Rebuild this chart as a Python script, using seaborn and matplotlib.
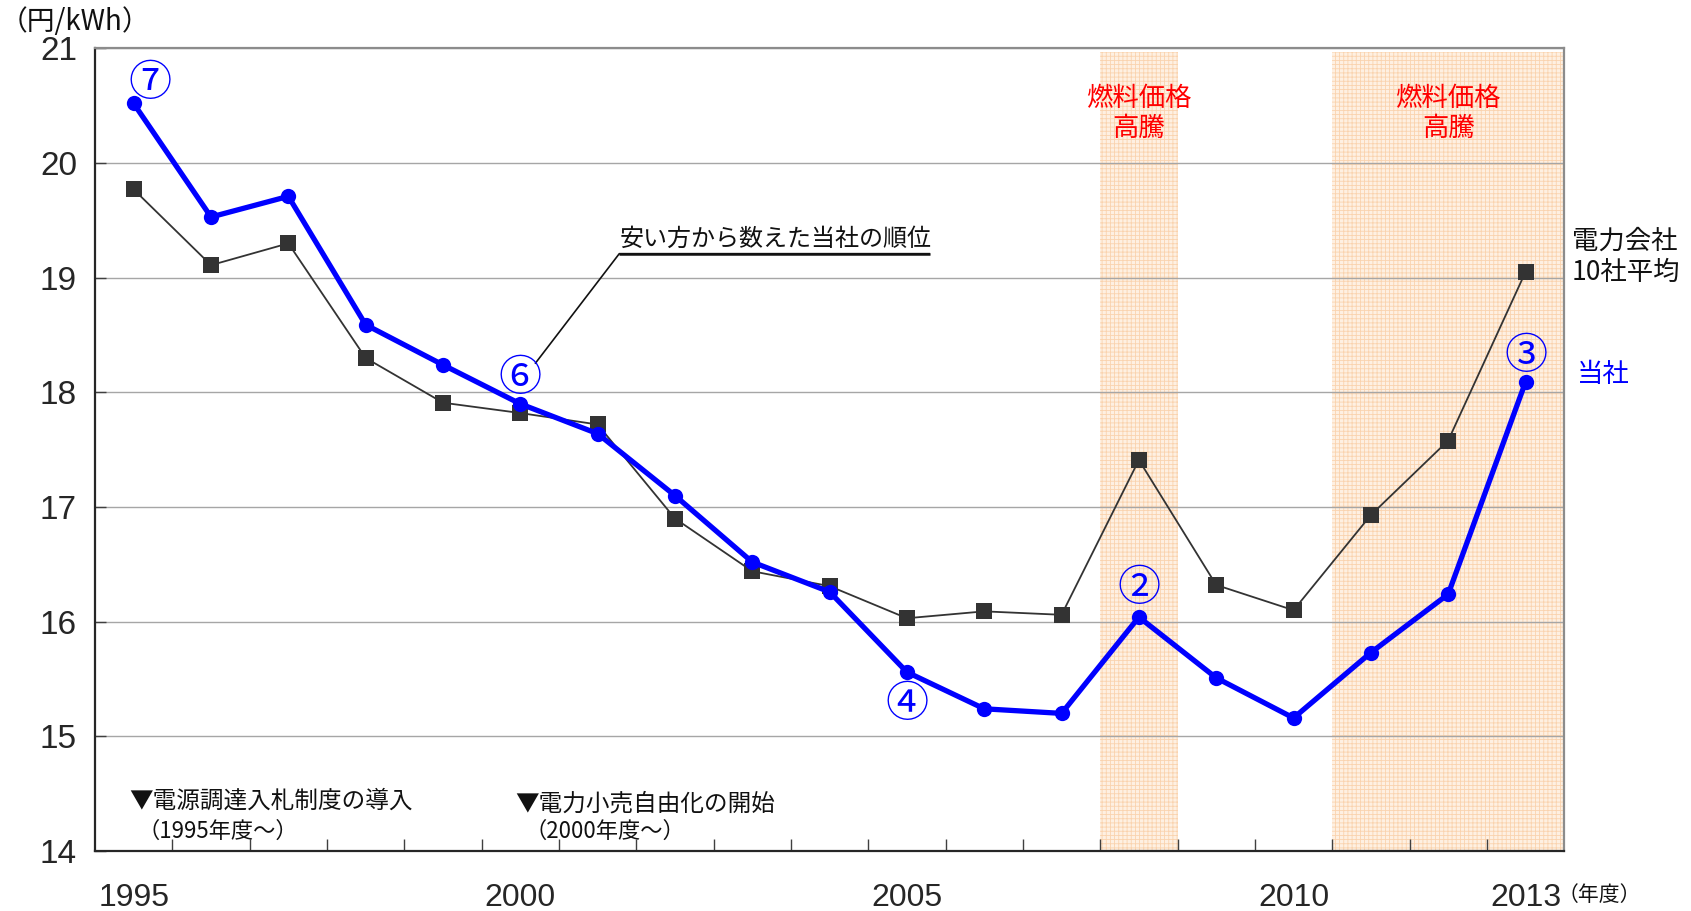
import matplotlib
matplotlib.use("Agg")
import matplotlib.pyplot as plt
import seaborn as sns
import pandas as pd
import numpy as np

# Fiscal years and unit prices (yen/kWh)
years = list(range(1995, 2014))
own_company = [20.52, 19.53, 19.71, 18.59, 18.24, 17.90, 17.64, 17.10, 16.52, 16.26,
               15.56, 15.24, 15.20, 16.04, 15.51, 15.16, 15.73, 16.24, 18.09]
ten_company_avg = [19.77, 19.11, 19.30, 18.30, 17.91, 17.82, 17.72, 16.90, 16.44, 16.31,
                   16.03, 16.09, 16.06, 17.41, 16.32, 16.10, 16.93, 17.58, 19.05]

# Rank of the company (counted from the cheapest) for selected years
rank_years = [1995, 2000, 2005, 2008, 2013]
rank_labels = ["⑦", "⑥", "④", "②", "③"]
rank_offsets = [(12, 14), (0, 18), (0, -24), (0, 20), (0, 18)]

# Periods of soaring fuel prices
fuel_spikes = [(2007.5, 2008.5), (2010.5, 2013.5)]
tick_label_years = [1995, 2000, 2005, 2010, 2013]

sns.set_theme(style="white")
plt.rcParams["font.family"] = ["Liberation Sans", "Noto Sans CJK JP", "DejaVu Sans"]
plt.rcParams["hatch.linewidth"] = 0.6
jp = ["Noto Sans CJK JP", "DejaVu Sans"]

fig = plt.figure(figsize=(16.91, 9.11), dpi=100)
ax = fig.add_axes([0.0562, 0.0659, 0.8688, 0.8809])

df = pd.DataFrame({"年度": years + years,
                   "単価": own_company + ten_company_avg,
                   "系列": ["当社"] * len(years) + ["10社平均"] * len(years)})

for x0, x1 in fuel_spikes:
    ax.axvspan(x0, x1, ymax=0.996, facecolor="#fef0e2", edgecolor="#fad3ae",
               hatch="++++", linewidth=0, zorder=0.5)

sns.lineplot(data=df[df["系列"] == "10社平均"], x="年度", y="単価", ax=ax,
             color="#333333", linewidth=1.3, marker="s", markersize=11,
             markeredgewidth=0, legend=False, zorder=3)
sns.lineplot(data=df[df["系列"] == "当社"], x="年度", y="単価", ax=ax,
             color="#0000ff", linewidth=3.8, marker="o", markersize=11,
             markeredgewidth=0, legend=False, zorder=4)

ax.set_xlim(1994.5, 2013.5)
ax.set_ylim(14, 21)
ax.set_xlabel("")
ax.set_ylabel("")

ax.set_yticks(range(14, 22))
ax.yaxis.grid(True, color="#a6a6a6", linewidth=1.0)
ax.set_axisbelow(True)
ax.tick_params(axis="y", direction="in", length=8, width=1, color="#404040",
               labelsize=24, pad=13, left=True)

ax.set_xticks(tick_label_years)
ax.set_xticklabels([str(y) for y in tick_label_years])
ax.set_xticks(np.arange(1995.5, 2013.0, 1.0), minor=True)
ax.tick_params(axis="x", which="major", length=0, labelsize=23, pad=23)
ax.tick_params(axis="x", which="minor", direction="in", length=9, width=1,
               color="#404040", bottom=True)

for side in ["left", "bottom"]:
    ax.spines[side].set_color("#262626")
    ax.spines[side].set_linewidth(1.6)
for side in ["top", "right"]:
    ax.spines[side].set_color("#8c8c8c")
    ax.spines[side].set_linewidth(1.6)

# Circled rank numbers
price_by_year = dict(zip(years, own_company))
for yr, lab, off in zip(rank_years, rank_labels, rank_offsets):
    ax.annotate(lab, (yr, price_by_year[yr]), xytext=off,
                textcoords="offset points", ha="center", va="center",
                fontsize=31, color="#0000ff", family=jp, zorder=6)

# Rank explanation with its leader line and underline
ax.text(2001.28, 19.34, "安い方から数えた当社の順位", fontsize=17.3, family=jp,
        color="#111111", ha="left", va="center")
ax.plot([2000.19, 2001.28, 2005.3], [18.25, 19.21, 19.21], color="#111111",
        linewidth=1.2, solid_capstyle="butt")
ax.plot([2001.28, 2005.3], [19.21, 19.21], color="#111111", linewidth=1.8,
        solid_capstyle="butt")

# Fuel price spike labels
for xc in [2008, 2012]:
    ax.text(xc, 20.43, "燃料価格\n高騰", ha="center", va="center", fontsize=19,
            color="#ff0000", family=jp, linespacing=1.15)

# Series labels outside the plot area
ax.text(1.005, 0.74, "電力会社\n10社平均", transform=ax.transAxes, ha="left",
        va="center", fontsize=19, color="#111111", family=jp, linespacing=1.2)
ax.text(1.009, 0.594, "当社", transform=ax.transAxes, ha="left", va="center",
        fontsize=19, color="#0000ff", family=jp)

# Policy notes
ax.text(1994.94, 14.43, "▼電源調達入札制度の導入", ha="left", va="center", fontsize=17,
        family=jp, color="#111111")
ax.text(1995.05, 14.17, "（1995年度～）", ha="left", va="center", fontsize=16,
        family=jp, color="#111111")
ax.text(1999.94, 14.41, "▼電力小売自由化の開始", ha="left", va="center", fontsize=17,
        family=jp, color="#111111")
ax.text(2000.05, 14.17, "（2000年度～）", ha="left", va="center", fontsize=16,
        family=jp, color="#111111")

# Axis units
fig.text(0.0, 0.976, "（円/kWh）", ha="left", va="center", fontsize=20,
         family=jp, color="#111111")
ax.text(2013.42, -0.055, "（年度）", transform=ax.get_xaxis_transform(), ha="left",
        va="center", fontsize=15, family=jp, color="#111111")

fig.savefig("out.png", dpi=100, facecolor="white")
